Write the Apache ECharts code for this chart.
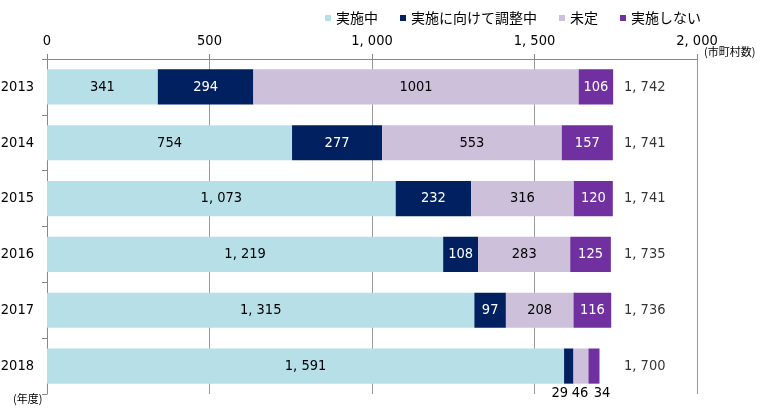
<!DOCTYPE html>
<html><head><meta charset="utf-8">
<script src="https://cdn.jsdelivr.net/npm/echarts@6/dist/echarts.min.js"></script>
<style>html,body{margin:0;padding:0;background:#fff}#c{width:766px;height:412px}</style>
</head><body><div id="c"></div>
<script>
const years = ['2013','2014','2015','2016','2017','2018'];
const seriesNames = ['実施中','実施に向けて調整中','未定','実施しない'];
const implemented = [341, 754, 1073, 1219, 1315, 1591];
const adjusting = [294, 277, 232, 108, 97, 29];
const undecided = [1001, 553, 316, 283, 208, 46];
const notImplemented = [106, 157, 120, 125, 116, 34];
const totals = [1742, 1741, 1741, 1735, 1736, 1700];
const xTicks = [0, 500, 1000, 1500, 2000];

const FONT = '"DejaVu Sans Condensed",sans-serif';
const JP = '"Noto Sans CJK JP",sans-serif';
const colors = ['#b7dfe8', '#002060', '#ccc0da', '#7030a0'];
const labelColors = ['#000', '#fff', '#000', '#fff'];
function fmt(v){ return v >= 1000 ? Math.floor(v/1000) + ', ' + String(v%1000).padStart(3,'0') : String(v); }

const lastOffsets = [[0,0],[-9,0],[-1,0],[8,0]];
function mk(arr, i){
  return arr.map((v, k) => {
    const item = { value: v };
    if (i === 2 && k === 0) item.label = { formatter: String(v) };
    if (k === 5 && i > 0) item.label = { position: 'bottom', distance: 2, color: '#000', offset: lastOffsets[i] };
    return item;
  });
}
const allData = [implemented, adjusting, undecided, notImplemented];

const series = allData.map((arr, i) => ({
  name: seriesNames[i], type: 'bar', stack: 'a', barWidth: '63%',
  itemStyle: { color: colors[i] },
  label: { show: true, position: 'inside', color: labelColors[i], fontFamily: FONT, fontSize: 14.5,
    formatter: p => fmt(p.value) },
  data: mk(arr, i)
}));
series.push({
  type: 'scatter', symbolSize: 0, silent: true,
  data: totals.map((t, k) => ({ value: [1760, years[k]], total: t })),
  label: { show: true, position: 'right', distance: 5, color: '#000', fontFamily: FONT, fontSize: 14.5,
    formatter: p => fmt(p.data.total) }
});

const chart = echarts.init(document.getElementById('c'));
chart.setOption({
  animation: false,
  color: colors,
  legend: {
    data: seriesNames, top: 6, left: 320, itemWidth: 6, itemHeight: 6, itemGap: 22,
    icon: 'rect', textStyle: { fontFamily: JP, fontSize: 14, color: '#000' }
  },
  grid: { left: 47, right: 69, top: 59, bottom: 18, containLabel: false, outerBoundsMode: 'none' },
  graphic: [
    { type: 'text', left: 704, top: 46, style: { text: '(市町村数)', font: '11px "Noto Sans CJK JP"', fill: '#000' } },
    { type: 'text', left: 13, top: 393, style: { text: '(年度)', font: '11px "Noto Sans CJK JP"', fill: '#000' } }
  ],
  xAxis: {
    type: 'value', position: 'top', min: 0, max: 2000, interval: 500,
    axisLine: { show: true, lineStyle: { color: '#888' } },
    axisTick: { show: true, length: 5, lineStyle: { color: '#888' } },
    splitLine: { show: true, lineStyle: { color: '#999' } },
    axisLabel: { fontFamily: FONT, fontSize: 14.5, color: '#000', margin: 10, formatter: v => fmt(v) }
  },
  yAxis: {
    type: 'category', data: years, inverse: true,
    axisLine: { show: true, lineStyle: { color: '#888' } },
    axisTick: { show: true, length: 5, lineStyle: { color: '#888' } },
    axisLabel: { fontFamily: FONT, fontSize: 14.5, color: '#000', margin: 13 }
  },
  series: series
});
</script></body></html>
